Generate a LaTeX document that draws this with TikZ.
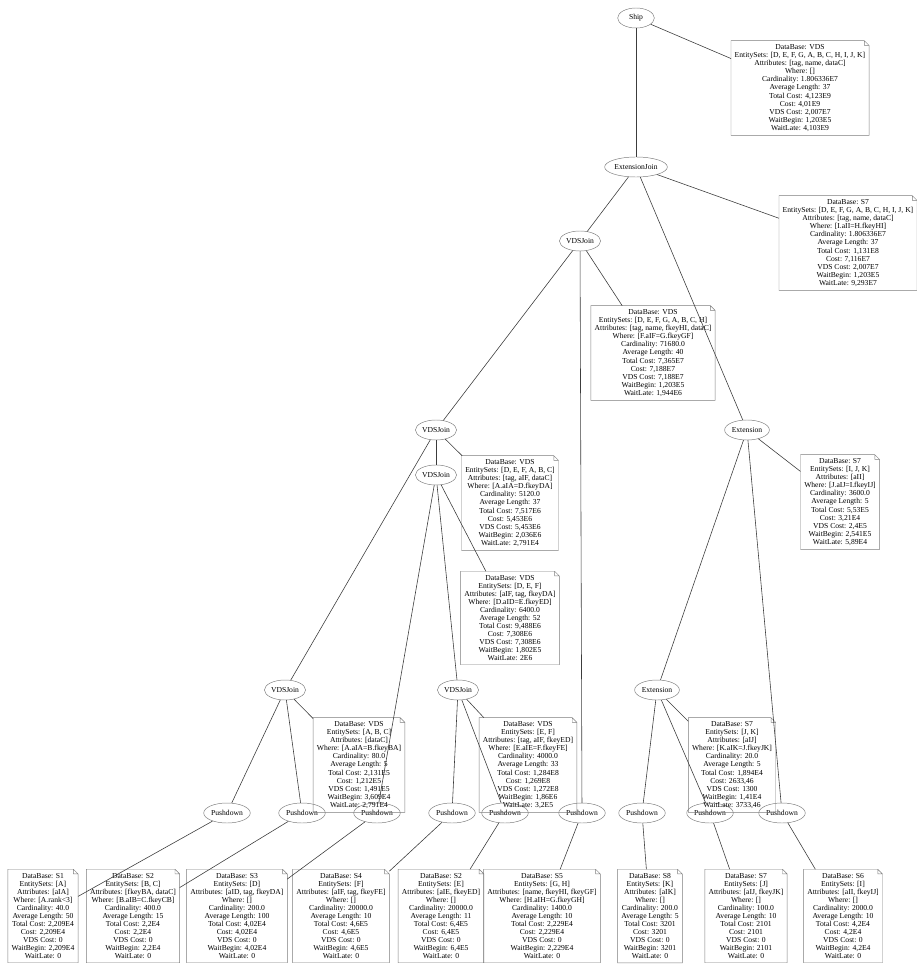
\documentclass[tikz,border=0pt]{standalone}
\usepackage{fontspec}
\setmainfont{Liberation Serif}
\usepackage{tikz}
\usetikzlibrary{shapes.geometric}
\definecolor{edgegray}{RGB}{60,60,60}
\definecolor{boxgray}{RGB}{125,125,125}

\begin{document}
\begin{tikzpicture}[x=0.03cm,y=-0.03cm,
  every node/.style={font=\fontsize{6.5}{6.9}\selectfont},
  op/.style={ellipse,draw=boxgray,inner xsep=0.5pt,inner ysep=2pt,minimum width=1.1cm,minimum height=0.6cm},
  info/.style={align=center,inner xsep=3pt,inner ysep=3pt},
  link/.style={edgegray,line width=0.5pt}]
  \useasboundingbox (0,0) rectangle (916,965);
  % plan operators
  \node[op] (ship) at (636,18) {Ship};
  \node[op] (extjoin) at (636,167) {ExtensionJoin};
  \node[op] (vjtop) at (580,241) {VDSJoin};
  \node[op] (vjl) at (436,430) {VDSJoin};
  \node[op] (vjm) at (436,475) {VDSJoin};
  \node[op] (extr) at (747,430) {Extension};
  \node[op] (vj3) at (285,690) {VDSJoin};
  \node[op] (vj4) at (458,690) {VDSJoin};
  \node[op] (ext5) at (657,690) {Extension};
  \foreach \i/\x in {1/227,2/302,3/377,4/452,5/505,6/582,7/642,8/710,9/782}
    \node[op] (pd\i) at (\x,813) {Pushdown};
  % statistics
  \node[info] (nship) at (800,88) {DataBase: VDS\\EntitySets: [D, E, F, G, A, B, C, H, I, J, K]\\Attributes: [tag, name, dataC]\\Where: []\\Cardinality: 1.806336E7\\Average Length: 37\\Total Cost: 4,123E9\\Cost: 4,01E9\\VDS Cost: 2,007E7\\WaitBegin: 1,203E5\\WaitLate: 4,103E9};
  \node[info] (nextjoin) at (848,243) {DataBase: S7\\EntitySets: [D, E, F, G, A, B, C, H, I, J, K]\\Attributes: [tag, name, dataC]\\Where: [I.aII=H.fkeyHI]\\Cardinality: 1.806336E7\\Average Length: 37\\Total Cost: 1,131E8\\Cost: 7,116E7\\VDS Cost: 2,007E7\\WaitBegin: 1,203E5\\WaitLate: 9,293E7};
  \node[info] (nvjtop) at (653,353) {DataBase: VDS\\EntitySets: [D, E, F, G, A, B, C, H]\\Attributes: [tag, name, fkeyHI, dataC]\\Where: [F.aIF=G.fkeyGF]\\Cardinality: 71680.0\\Average Length: 40\\Total Cost: 7,365E7\\Cost: 7,188E7\\VDS Cost: 7,188E7\\WaitBegin: 1,203E5\\WaitLate: 1,944E6};
  \node[info] (nvjl) at (510,503) {DataBase: VDS\\EntitySets: [D, E, F, A, B, C]\\Attributes: [tag, aIF, dataC]\\Where: [A.aIA=D.fkeyDA]\\Cardinality: 5120.0\\Average Length: 37\\Total Cost: 7,517E6\\Cost: 5,453E6\\VDS Cost: 5,453E6\\WaitBegin: 2,036E6\\WaitLate: 2,791E4};
  \node[info] (nvjm) at (510,618) {DataBase: VDS\\EntitySets: [D, E, F]\\Attributes: [aIF, tag, fkeyDA]\\Where: [D.aID=E.fkeyED]\\Cardinality: 6400.0\\Average Length: 52\\Total Cost: 9,488E6\\Cost: 7,308E6\\VDS Cost: 7,308E6\\WaitBegin: 1,802E5\\WaitLate: 2E6};
  \node[info] (nextr) at (840,502) {DataBase: S7\\EntitySets: [I, J, K]\\Attributes: [aII]\\Where: [J.aIJ=I.fkeyIJ]\\Cardinality: 3600.0\\Average Length: 5\\Total Cost: 5,53E5\\Cost: 3,21E4\\VDS Cost: 2,4E5\\WaitBegin: 2,541E5\\WaitLate: 5,89E4};
  \node[info] (nvj3) at (359,765) {DataBase: VDS\\EntitySets: [A, B, C]\\Attributes: [dataC]\\Where: [A.aIA=B.fkeyBA]\\Cardinality: 80.0\\Average Length: 5\\Total Cost: 2,131E5\\Cost: 1,212E5\\VDS Cost: 1,491E5\\WaitBegin: 3,609E4\\WaitLate: 2,791E4};
  \node[info] (nvj4) at (528,765) {DataBase: VDS\\EntitySets: [E, F]\\Attributes: [tag, aIF, fkeyED]\\Where: [E.aIE=F.fkeyFE]\\Cardinality: 4000.0\\Average Length: 33\\Total Cost: 1,284E8\\Cost: 1,269E8\\VDS Cost: 1,272E8\\WaitBegin: 1,86E6\\WaitLate: 3,2E5};
  \node[info] (next5) at (732,765) {DataBase: S7\\EntitySets: [J, K]\\Attributes: [aIJ]\\Where: [K.aIK=J.fkeyJK]\\Cardinality: 20.0\\Average Length: 5\\Total Cost: 1,894E4\\Cost: 2633,46\\VDS Cost: 1300\\WaitBegin: 1,41E4\\WaitLate: 3733,46};
  \node[info] (ns1) at (43,916) {DataBase: S1\\EntitySets: [A]\\Attributes: [aIA]\\Where: [A.rank<3]\\Cardinality: 40.0\\Average Length: 50\\Total Cost: 2,209E4\\Cost: 2,209E4\\VDS Cost: 0\\WaitBegin: 2,209E4\\WaitLate: 0};
  \node[info] (ns2) at (133,916) {DataBase: S2\\EntitySets: [B, C]\\Attributes: [fkeyBA, dataC]\\Where: [B.aIB=C.fkeyCB]\\Cardinality: 400.0\\Average Length: 15\\Total Cost: 2,2E4\\Cost: 2,2E4\\VDS Cost: 0\\WaitBegin: 2,2E4\\WaitLate: 0};
  \node[info] (ns3) at (237,916) {DataBase: S3\\EntitySets: [D]\\Attributes: [aID, tag, fkeyDA]\\Where: []\\Cardinality: 200.0\\Average Length: 100\\Total Cost: 4,02E4\\Cost: 4,02E4\\VDS Cost: 0\\WaitBegin: 4,02E4\\WaitLate: 0};
  \node[info] (ns4) at (341,916) {DataBase: S4\\EntitySets: [F]\\Attributes: [aIF, tag, fkeyFE]\\Where: []\\Cardinality: 20000.0\\Average Length: 10\\Total Cost: 4,6E5\\Cost: 4,6E5\\VDS Cost: 0\\WaitBegin: 4,6E5\\WaitLate: 0};
  \node[info] (ns5) at (441,916) {DataBase: S2\\EntitySets: [E]\\Attributes: [aIE, fkeyED]\\Where: []\\Cardinality: 20000.0\\Average Length: 11\\Total Cost: 6,4E5\\Cost: 6,4E5\\VDS Cost: 0\\WaitBegin: 6,4E5\\WaitLate: 0};
  \node[info] (ns6) at (542,916) {DataBase: S5\\EntitySets: [G, H]\\Attributes: [name, fkeyHI, fkeyGF]\\Where: [H.aIH=G.fkeyGH]\\Cardinality: 1400.0\\Average Length: 10\\Total Cost: 2,229E4\\Cost: 2,229E4\\VDS Cost: 0\\WaitBegin: 2,229E4\\WaitLate: 0};
  \node[info] (ns7) at (650,916) {DataBase: S8\\EntitySets: [K]\\Attributes: [aIK]\\Where: []\\Cardinality: 200.0\\Average Length: 5\\Total Cost: 3201\\Cost: 3201\\VDS Cost: 0\\WaitBegin: 3201\\WaitLate: 0};
  \node[info] (ns8) at (746,916) {DataBase: S7\\EntitySets: [J]\\Attributes: [aIJ, fkeyJK]\\Where: []\\Cardinality: 100.0\\Average Length: 10\\Total Cost: 2101\\Cost: 2101\\VDS Cost: 0\\WaitBegin: 2101\\WaitLate: 0};
  \node[info] (ns9) at (843,916) {DataBase: S6\\EntitySets: [I]\\Attributes: [aII, fkeyIJ]\\Where: []\\Cardinality: 2000.0\\Average Length: 10\\Total Cost: 4,2E4\\Cost: 4,2E4\\VDS Cost: 0\\WaitBegin: 4,2E4\\WaitLate: 0};
  % note outlines with folded corner
  \foreach \n in {nship,nextjoin,nvjtop,nvjl,nvjm,nextr,nvj3,nvj4,next5,ns1,ns2,ns3,ns4,ns5,ns6,ns7,ns8,ns9}
    \draw[boxgray,line width=0.4pt] (\n.north west) -- ([xshift=-4pt]\n.north east) -- ([yshift=-4pt]\n.north east)
      -- (\n.south east) -- (\n.south west) -- cycle
      ([xshift=-4pt]\n.north east) |- ([yshift=-4pt]\n.north east);
  % tree
  \draw[link] (ship) -- (extjoin);
  \draw[link] (extjoin) -- (vjtop);
  \draw[link] (extjoin) -- (extr);
  \draw[link] (vjtop) -- (vjl);
  \draw[link] (vjtop) -- (pd6);
  \draw[link] (vjl) -- (vj3);
  \draw[link] (vjl) -- (vjm);
  \draw[link] (vjm) -- (pd3);
  \draw[link] (vjm) -- (vj4);
  \draw[link] (vj3) -- (pd1);
  \draw[link] (vj3) -- (pd2);
  \draw[link] (vj4) -- (pd4);
  \draw[link] (vj4) -- (pd5);
  \draw[link] (extr) -- (ext5);
  \draw[link] (extr) -- (pd9);
  \draw[link] (ext5) -- (pd7);
  \draw[link] (ext5) -- (pd8);
  % statistics links
  \draw[link] (ship) -- (nship);
  \draw[link] (extjoin) -- (nextjoin);
  \draw[link] (vjtop) -- (nvjtop);
  \draw[link] (vjl) -- (nvjl);
  \draw[link] (vjm) -- (nvjm);
  \draw[link] (extr) -- (nextr);
  \draw[link] (vj3) -- (nvj3);
  \draw[link] (vj4) -- (nvj4);
  \draw[link] (ext5) -- (next5);
  \foreach \i in {1,...,9}
    \draw[link] (pd\i) -- (ns\i);
\end{tikzpicture}
\end{document}
